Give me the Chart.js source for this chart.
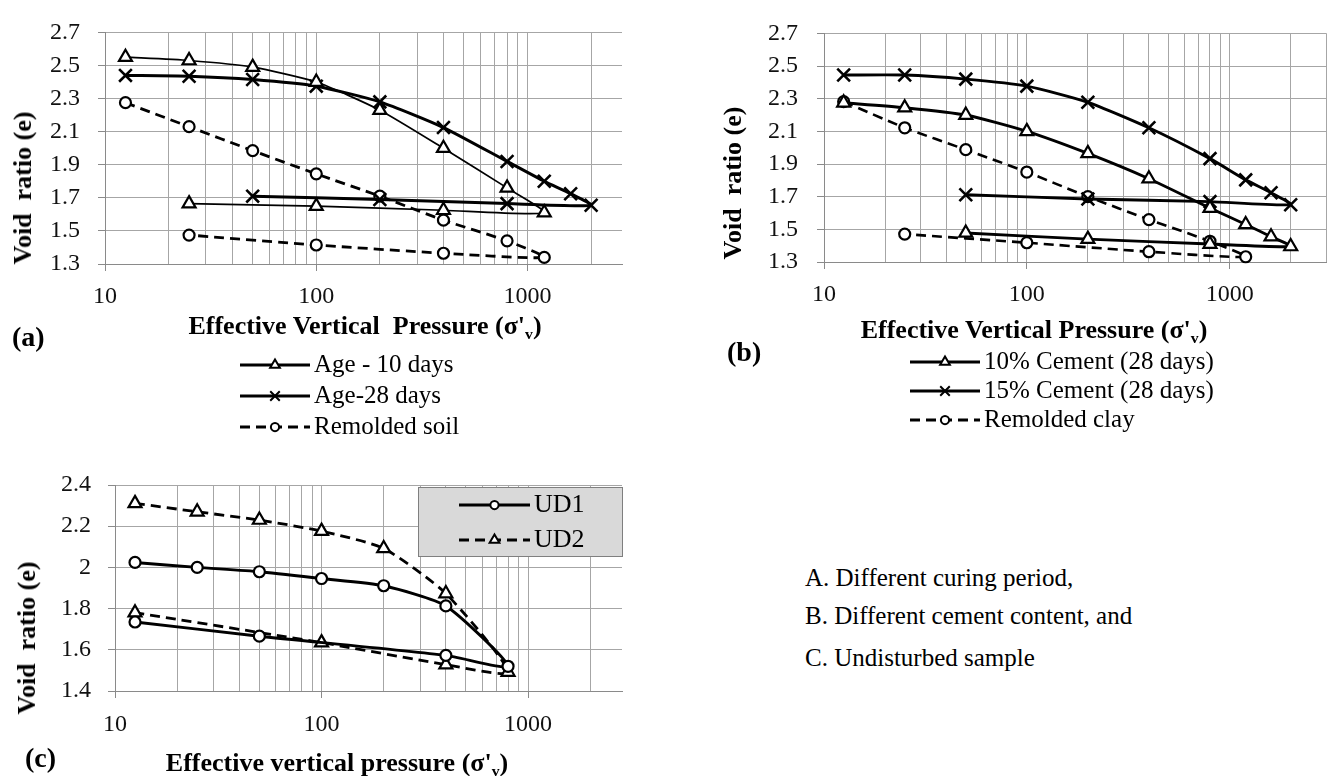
<!DOCTYPE html>
<html>
<head>
<meta charset="utf-8">
<script src="https://cdn.jsdelivr.net/npm/chart.js@4.4.0/dist/chart.umd.min.js"></script>
<style>
    body { margin: 0; width: 1338px; height: 776px; background: #fff; position: relative; overflow: hidden;
           font-family: 'Liberation Serif', 'Times New Roman', serif; color: #000; }
    canvas { position: absolute; }
    .teks { position: absolute; white-space: pre; line-height: 1; }
    .judul-x { font-weight: bold; font-size: 26px; transform: translate(-50%, -50%); }
    .judul-y { font-weight: bold; font-size: 26px; transform: translate(-50%, -50%) rotate(-90deg); }
    .panel { font-weight: bold; font-size: 28px; transform: translateY(-50%); }
    .ket { font-size: 25px; transform: translateY(-50%); }
    sub { font-size: 60%; vertical-align: -0.3em; line-height: 0; }
</style>
</head>
<body>

<canvas id="grafikA" width="680" height="445" style="left:0;top:0;"></canvas>
<canvas id="grafikB" width="658" height="445" style="left:680px;top:0;"></canvas>
<canvas id="grafikC" width="680" height="326" style="left:0;top:450px;"></canvas>

<div class="teks judul-y" style="left:23px;top:188px;">Void  ratio (e)</div>
<div class="teks judul-y" style="left:733px;top:183px;">Void  ratio (e)</div>
<div class="teks judul-y" style="left:27px;top:638px;">Void  ratio (e)</div>

<div class="teks judul-x" style="left:365px;top:326px;">Effective Vertical  Pressure (σ'<sub>v</sub>)</div>
<div class="teks judul-x" style="left:1034px;top:330px;">Effective Vertical Pressure (σ'<sub>v</sub>)</div>
<div class="teks judul-x" style="left:337px;top:763px;">Effective vertical pressure (σ'<sub>v</sub>)</div>

<div class="teks panel" style="left:12px;top:337px;">(a)</div>
<div class="teks panel" style="left:727px;top:352px;">(b)</div>
<div class="teks panel" style="left:25px;top:758px;">(c)</div>

<div class="teks ket" style="left:805px;top:577px;">A. Different curing period,</div>
<div class="teks ket" style="left:805px;top:615px;">B. Different cement content, and</div>
<div class="teks ket" style="left:805px;top:657px;">C. Undisturbed sample</div>

<script>
// ===== DATA =====
// (a) umur perawatan berbeda
const label_a = ['Age - 10 days', 'Age-28 days', 'Remolded soil'];
const tekanan_a_10 = [12.5, 25, 50, 100, 200, 400, 800, 1200, 400, 100, 25];
const e_a_10       = [2.55, 2.53, 2.49, 2.40, 2.23, 2.00, 1.76, 1.61, 1.625, 1.65, 1.665];
const tekanan_a_28 = [12.5, 25, 50, 100, 200, 400, 800, 1200, 1600, 2000, 800, 200, 50];
const e_a_28       = [2.44, 2.435, 2.415, 2.375, 2.28, 2.125, 1.92, 1.80, 1.725, 1.655, 1.665, 1.69, 1.71];
const tekanan_a_remold = [12.5, 25, 50, 100, 200, 400, 800, 1200, 400, 100, 25];
const e_a_remold       = [2.275, 2.13, 1.985, 1.845, 1.71, 1.565, 1.44, 1.34, 1.365, 1.415, 1.475];

// (b) kadar semen berbeda
const label_b = ['10% Cement (28 days)', '15% Cement (28 days)', 'Remolded clay'];
const tekanan_b_semen = [12.5, 25, 50, 100, 200, 400, 800, 1200, 1600, 2000, 800, 200, 50];
const e_b_10 = [2.275, 2.245, 2.20, 2.10, 1.965, 1.81, 1.63, 1.53, 1.455, 1.395, 1.41, 1.44, 1.478];
const e_b_15 = [2.445, 2.445, 2.42, 2.377, 2.278, 2.122, 1.933, 1.803, 1.724, 1.651, 1.67, 1.686, 1.712];
const tekanan_b_remold = [12.5, 25, 50, 100, 200, 400, 800, 1200, 400, 100, 25];
const e_b_remold       = [2.282, 2.122, 1.988, 1.851, 1.70, 1.56, 1.427, 1.332, 1.363, 1.418, 1.471];

// (c) sampel tak terganggu
const label_c = ['UD1', 'UD2'];
const tekanan_c_ud1 = [12.5, 25, 50, 100, 200, 400, 800, 400, 50, 12.5];
const e_c_ud1       = [2.024, 2.0, 1.979, 1.946, 1.911, 1.813, 1.52, 1.573, 1.666, 1.735];
const tekanan_c_ud2 = [12.5, 25, 50, 100, 200, 400, 800, 400, 100, 12.5];
const e_c_ud2       = [2.311, 2.27, 2.23, 2.176, 2.092, 1.873, 1.492, 1.528, 1.635, 1.78];

// tick label
const labelX = [10, 100, 1000];
const tickX = [10, 20, 30, 40, 50, 60, 70, 80, 90, 100, 200, 300, 400, 500, 600, 700, 800, 900, 1000, 2000, 3000];
const tickY_ab = [1.3, 1.5, 1.7, 1.9, 2.1, 2.3, 2.5, 2.7];
const tickY_c = [1.4, 1.6, 1.8, 2.0, 2.2, 2.4];

const FONT = "'Liberation Serif', 'Times New Roman', Times, serif";
Chart.defaults.font.family = FONT;

// --- gambar penanda kecil untuk legenda ---
function gambarPenanda(ctx, gaya, r, x, y) {
    ctx.beginPath();
    if (gaya === 'triangle') {
        for (let k = 0; k < 3; k++) {
            const a = k * 2 * Math.PI / 3;
            const px = x + Math.sin(a) * r, py = y - Math.cos(a) * r;
            if (k === 0) ctx.moveTo(px, py); else ctx.lineTo(px, py);
        }
        ctx.closePath();
        ctx.fill(); ctx.stroke();
    } else if (gaya === 'crossRot') {
        const d = r * 0.707;
        ctx.moveTo(x - d, y - d); ctx.lineTo(x + d, y + d);
        ctx.moveTo(x + d, y - d); ctx.lineTo(x - d, y + d);
        ctx.stroke();
    } else {
        ctx.arc(x, y, r, 0, Math.PI * 2);
        ctx.fill(); ctx.stroke();
    }
}

// Plugin legenda: garis + penanda + teks
const legendaGaris = {
    id: 'legendaGaris',
    afterDraw(chart, args, opt) {
        if (!opt || !opt.baris) return;
        const ctx = chart.ctx;
        ctx.save();
        if (opt.kotak) {
            const k = opt.kotak;
            ctx.fillStyle = '#d9d9d9';
            ctx.strokeStyle = '#7f7f7f';
            ctx.lineWidth = 1;
            ctx.fillRect(k.x, k.y, k.w, k.h);
            ctx.strokeRect(k.x + 0.5, k.y + 0.5, k.w, k.h);
        }
        chart.data.datasets.forEach((ds, i) => {
            const y = opt.baris[i];
            ctx.strokeStyle = '#000';
            ctx.lineWidth = 3;
            ctx.setLineDash(ds.borderDash || []);
            ctx.beginPath();
            ctx.moveTo(opt.x, y);
            ctx.lineTo(opt.x + opt.panjang, y);
            ctx.stroke();
            ctx.setLineDash([]);
            ctx.fillStyle = '#fff';
            ctx.lineWidth = 2;
            gambarPenanda(ctx, ds.pointStyle, ds.pointRadius * 0.75, opt.x + opt.panjang / 2, y);
            ctx.fillStyle = '#000';
            ctx.font = opt.ukuran + 'px ' + FONT;
            ctx.textBaseline = 'middle';
            ctx.fillText(ds.label, opt.x + opt.panjang + 4, y);
        });
        ctx.restore();
    }
};

function seri(label, xs, ys, gaya, tebal, putus) {
    const radius = { triangle: 7.5, crossRot: 9, circle: 5.5 }[gaya];
    return {
        label: label,
        data: xs.map((x, i) => ({ x: x, y: ys[i] })),
        borderColor: '#000',
        borderWidth: tebal,
        borderDash: putus ? [10, 6] : [],
        tension: 0.2,
        pointStyle: gaya,
        pointRadius: radius,
        pointBorderWidth: gaya === 'crossRot' ? 2.6 : 2.2,
        pointBorderColor: '#000',
        pointBackgroundColor: '#fff',
        clip: false
    };
}

function buatGrafik(id, datasets, o) {
    return new Chart(document.getElementById(id), {
        type: 'line',
        data: { datasets: datasets },
        options: {
            responsive: false,
            animation: false,
            events: [],
            layout: { padding: o.padding },
            plugins: {
                legend: { display: false },
                tooltip: { enabled: false },
                legendaGaris: o.legenda
            },
            scales: {
                x: {
                    type: 'logarithmic',
                    min: 10,
                    max: o.xMaks,
                    afterBuildTicks: s => { s.ticks = tickX.filter(v => v <= o.xMaks).map(v => ({ value: v })); },
                    afterFit: s => { s.height = o.tinggiX; },
                    ticks: {
                        autoSkip: false, maxRotation: 0, padding: o.padX, color: '#111',
                        font: { family: FONT, size: 24 },
                        callback: v => labelX.includes(v) ? String(v) : ''
                    },
                    grid: {
                        color: '#a6a6a6', lineWidth: 1, tickLength: 7,
                        tickColor: c => (c.tick && labelX.includes(c.tick.value)) ? '#8a8a8a' : 'rgba(0,0,0,0)'
                    },
                    border: { color: '#8a8a8a', width: 1 }
                },
                y: {
                    min: o.yMin,
                    max: o.yMaks,
                    afterBuildTicks: s => { s.ticks = o.tickY.map(v => ({ value: v })); },
                    afterFit: s => { s.width = o.lebarY; },
                    ticks: {
                        padding: o.padY, color: '#111',
                        font: { family: FONT, size: 24 },
                        callback: v => String(+v.toFixed(1))
                    },
                    grid: { color: '#a6a6a6', lineWidth: 1, tickLength: 7, tickColor: '#8a8a8a' },
                    border: { color: '#8a8a8a', width: 1 }
                }
            }
        },
        plugins: [legendaGaris]
    });
}

function gambarSemua() {
    buatGrafik('grafikA', [
        seri(label_a[0], tekanan_a_10, e_a_10, 'triangle', 1.7, false),
        seri(label_a[1], tekanan_a_28, e_a_28, 'crossRot', 3, false),
        seri(label_a[2], tekanan_a_remold, e_a_remold, 'circle', 2.8, true)
    ], {
        padding: { left: 0, top: 19, right: 58, bottom: 0 },
        lebarY: 105, tinggiX: 181, xMaks: 2800,
        yMin: 1.3, yMaks: 2.7, tickY: tickY_ab, padX: 11, padY: 18,
        legenda: { x: 240, panjang: 70, baris: [365, 396, 427], ukuran: 25 }
    });

    buatGrafik('grafikB', [
        seri(label_b[0], tekanan_b_semen, e_b_10, 'triangle', 2.9, false),
        seri(label_b[1], tekanan_b_semen, e_b_15, 'crossRot', 2.9, false),
        seri(label_b[2], tekanan_b_remold, e_b_remold, 'circle', 2.6, true)
    ], {
        padding: { left: 0, top: 16, right: 4, bottom: 0 },
        lebarY: 144, tinggiX: 183, xMaks: 3000,
        yMin: 1.3, yMaks: 2.7, tickY: tickY_ab, padX: 11, padY: 19,
        legenda: { x: 230, panjang: 70, baris: [362, 391, 420], ukuran: 25 }
    });

    buatGrafik('grafikC', [
        seri(label_c[0], tekanan_c_ud1, e_c_ud1, 'circle', 2.9, false),
        seri(label_c[1], tekanan_c_ud2, e_c_ud2, 'triangle', 2.8, true)
    ], {
        padding: { left: 0, top: 35, right: 58, bottom: 0 },
        lebarY: 115, tinggiX: 85, xMaks: 2850,
        yMin: 1.4, yMaks: 2.4, tickY: tickY_c, padX: 12.5, padY: 17,
        legenda: { x: 459, panjang: 71, baris: [55, 90], ukuran: 26,
                   kotak: { x: 418, y: 37, w: 204, h: 69 } }
    });
}

// Tunggu font siap, baru gambar
window.addEventListener('load', () => {
    Promise.all([
        document.fonts.load("24px 'Liberation Serif'"),
        document.fonts.load("bold 24px 'Liberation Serif'")
    ]).catch(() => {}).then(() => document.fonts.ready).then(gambarSemua);
});
</script>
</body>
</html>
